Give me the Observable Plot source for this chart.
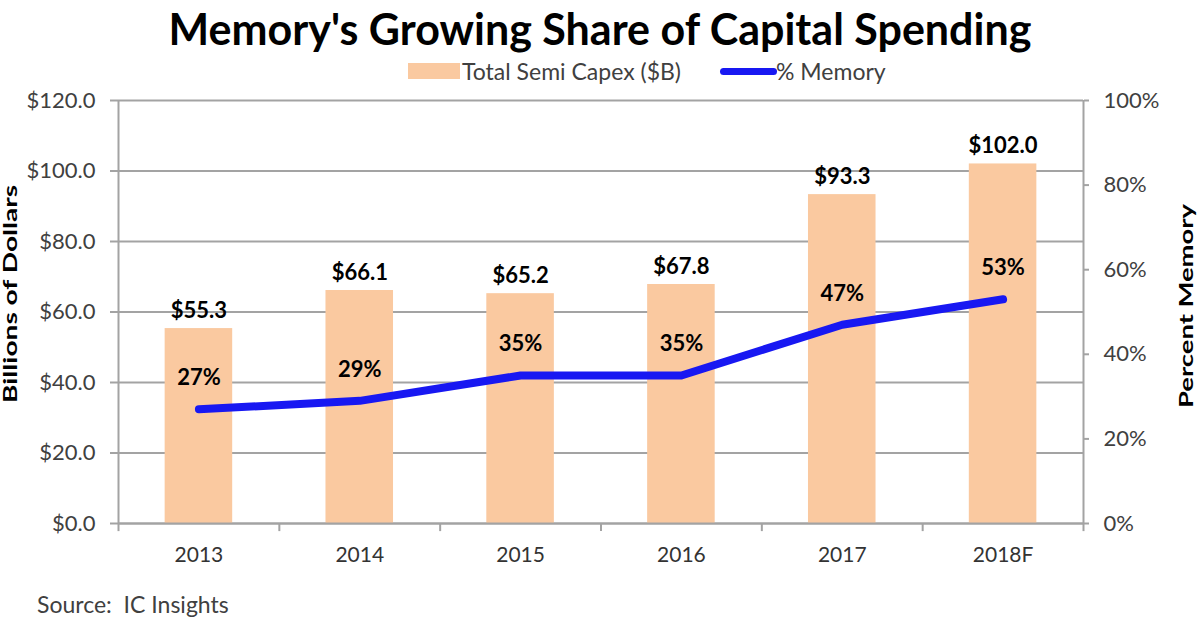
<!DOCTYPE html>
<html>
<head>
<meta charset="utf-8">
<script src="https://cdn.jsdelivr.net/npm/d3@7"></script>
<script src="https://cdn.jsdelivr.net/npm/@observablehq/plot@0.6"></script>
<style>
  html, body { margin: 0; padding: 0; background: #fff; }
  #wrap { position: relative; width: 1200px; height: 630px; font-family: Lato, "Open Sans", sans-serif; color: #404040; }
  #chart { position: absolute; left: 0; top: 0; }
  .abs { position: absolute; white-space: nowrap; }
  #title { left: 0; width: 1200px; top: 3px; text-align: center; font-size: 43px; font-weight: 700; color: #000; }
  .sw { position: absolute; }
  .leg { font-size: 23px; color: #404040; }
  #source { left: 37px; top: 590px; font-size: 23px; color: #404040; }
</style>
</head>
<body>
<div id="wrap">
  <div id="chart"></div>
  <div id="title" class="abs">Memory's Growing Share of Capital Spending</div>
  <div class="sw" style="left:408px;top:63px;width:52px;height:16px;background:#fac9a0;"></div>
  <div class="abs leg" style="left:462px;top:57px;">Total Semi Capex ($B)</div>
  <div class="sw" style="left:720px;top:68px;width:57px;height:7px;border-radius:4px;background:#1818f2;"></div>
  <div class="abs leg" style="left:776px;top:57px;">% Memory</div>
  <div id="source" class="abs">Source:&nbsp; IC Insights</div>
</div>
<script>
const years = ["2013", "2014", "2015", "2016", "2017", "2018F"];
const capex = [55.3, 66.1, 65.2, 67.8, 93.3, 102.0];
const memoryPct = [27, 29, 35, 35, 47, 53];
const dollarTicks = [0, 20, 40, 60, 80, 100, 120];
const pctTicks = [0, 20, 40, 60, 80, 100];

const data = years.map((year, i) => ({year, capex: capex[i], pct: memoryPct[i], idx: i}));
const pctToY = p => p * 1.2; // right axis: 0–100% mapped onto 0–120
const grid = "#a3a3a3";

const chart = Plot.plot({
  width: 1200,
  height: 630,
  marginTop: 100,
  marginBottom: 107,
  marginLeft: 118,
  marginRight: 117,
  style: {fontFamily: "Lato, 'Open Sans', sans-serif", color: "#404040", background: "transparent"},
  x: {type: "linear", domain: [0, years.length], axis: null},
  y: {domain: [0, 120], axis: null},
  marks: [
    Plot.gridY(dollarTicks, {stroke: grid, strokeWidth: 2, strokeOpacity: 1}),
    Plot.rectY(data, {x1: d => d.idx + 0.29, x2: d => d.idx + 0.71, y: "capex", fill: "#fac9a0"}),
    Plot.ruleX([0, years.length], {stroke: grid, strokeWidth: 2}),
    Plot.ruleY([0], {stroke: grid, strokeWidth: 2}),
    Plot.ruleX(d3.range(years.length + 1), {y1: 0, y2: -2.3, stroke: grid, strokeWidth: 2}),
    Plot.axisY(dollarTicks, {anchor: "left", label: null, tickSize: 8, tickPadding: 15, stroke: grid, strokeWidth: 2, fontSize: 22, fill: "#404040",
      tickFormat: d => "$" + d.toFixed(1)}),
    Plot.axisY(pctTicks.map(pctToY), {anchor: "right", label: null, tickSize: 5, tickPadding: 15, stroke: grid, strokeWidth: 2, fontSize: 22, fill: "#404040",
      tickFormat: d => Math.round(d / 1.2) + "%"}),
    Plot.text(data, {x: d => d.idx + 0.5, text: "year", frameAnchor: "bottom", dy: 38, fontSize: 21, fill: "#333"}),
    Plot.line(data, {x: d => d.idx + 0.5, y: d => pctToY(d.pct), stroke: "#1818f2", strokeWidth: 8, curve: "linear", strokeLinecap: "round", strokeLinejoin: "round"}),
    Plot.text(data, {x: d => d.idx + 0.5, y: "capex", text: d => "$" + d.capex.toFixed(1), dy: -18, fontSize: 22, fontWeight: "bold", fill: "#000"}),
    Plot.text(data, {x: d => d.idx + 0.5, y: d => pctToY(d.pct), text: d => d.pct + "%", dy: -31, fontSize: 22, fontWeight: "bold", fill: "#000"}),
    Plot.text(["Billions of Dollars"], {frameAnchor: "left", textAnchor: "middle", dx: -107, dy: -18, rotate: -90, fontSize: 18, fontWeight: "bold", fill: "#000"}),
    Plot.text(["Percent Memory"], {frameAnchor: "right", textAnchor: "middle", dx: 104, dy: -6, rotate: -90, fontSize: 18, fontWeight: "bold", fill: "#000"})
  ]
});
// stretch rotated axis titles along their length, as in the reference
d3.select(chart).selectAll("text").each(function() {
  const t = this.textContent;
  if (t === "Billions of Dollars") d3.select(this).attr("textLength", 218).attr("lengthAdjust", "spacingAndGlyphs");
  if (t === "Percent Memory") d3.select(this).attr("textLength", 204).attr("lengthAdjust", "spacingAndGlyphs");
});
document.getElementById("chart").appendChild(chart);
</script>
</body>
</html>
